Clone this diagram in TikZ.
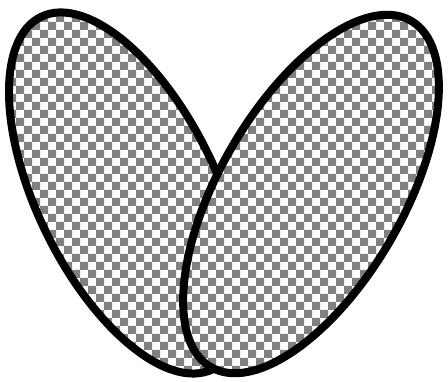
\documentclass[tikz,border=0pt]{standalone}
\usepackage{tikz}
\usetikzlibrary{patterns}

% finer checkerboard, 2pt squares
\pgfdeclarepatternformonly{finechecker}{\pgfqpoint{-1pt}{-1pt}}{\pgfqpoint{5pt}{5pt}}{\pgfqpoint{4pt}{4pt}}{%
  \pgfpathrectangle{\pgfqpoint{0pt}{0pt}}{\pgfqpoint{2pt}{2pt}}%
  \pgfpathrectangle{\pgfqpoint{2pt}{2pt}}{\pgfqpoint{2pt}{2pt}}%
  \pgfusepath{fill}%
}

\begin{document}
\begin{tikzpicture}[
    x=0.25pt,y=-0.25pt,
    petal/.style={line width=2pt,draw=black,preaction={fill=white},
      pattern=finechecker,pattern color=gray}
  ]
    \useasboundingbox (0,0) rectangle (448,382);
    \path[petal,rotate around={26:(127,193)}] (127,193) ellipse [x radius=90,y radius=196];
    \path[petal,rotate around={-30:(311,194)}] (311,194) ellipse [x radius=92,y radius=200];
  \end{tikzpicture}
\end{document}
